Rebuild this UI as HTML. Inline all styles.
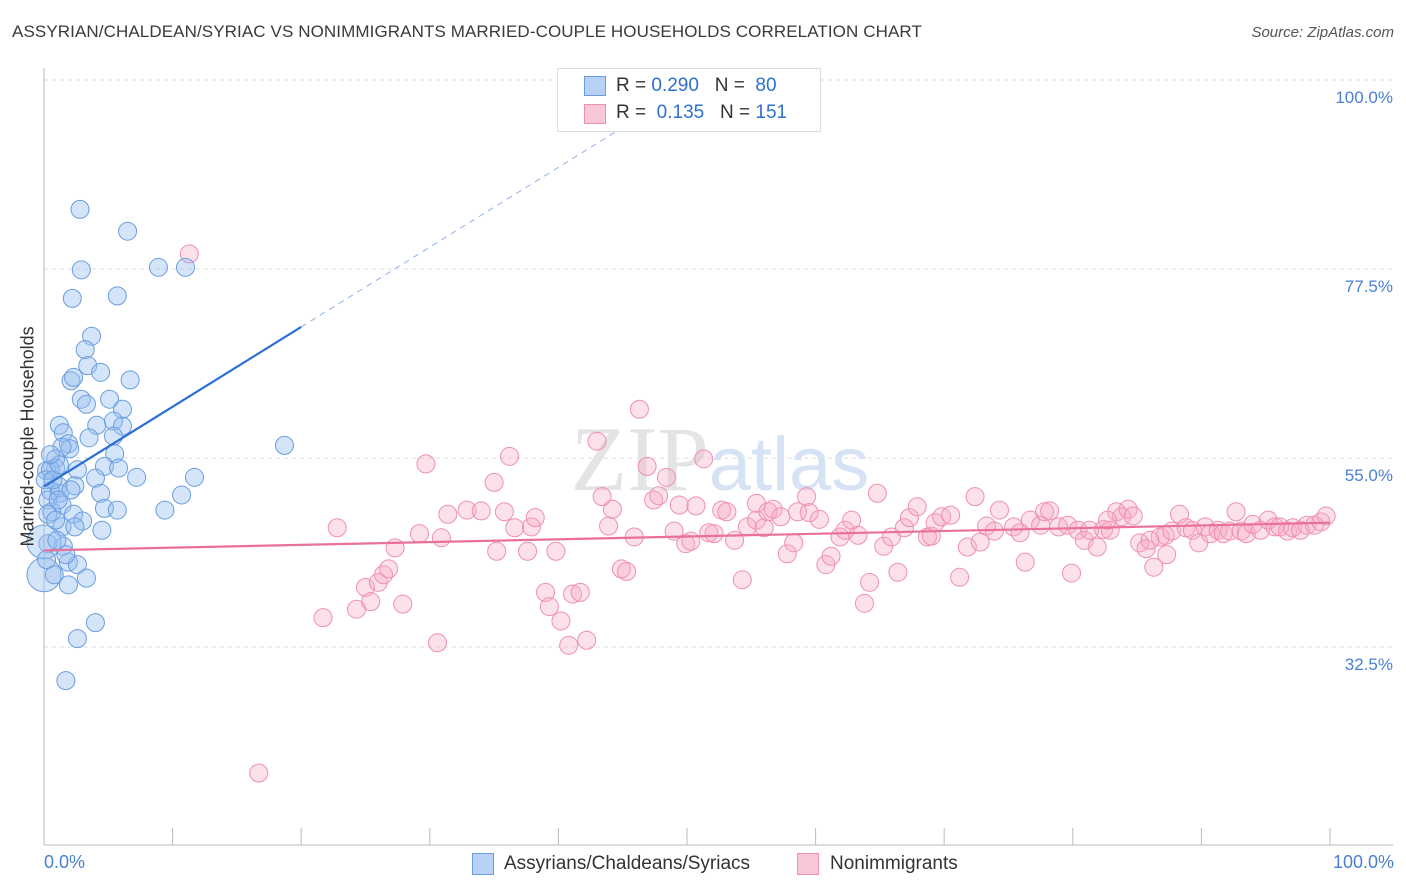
<!DOCTYPE html>
<html><head><meta charset="utf-8">
<style>
body{margin:0;background:#fff;font-family:"Liberation Sans",sans-serif;}
#wrap{position:relative;width:1406px;height:892px;overflow:hidden;}
.t{position:absolute;white-space:nowrap;}
</style></head>
<body>
<div id="wrap">
<div class="t" style="left:12px;top:22px;font-size:17px;color:#3a3a3a;letter-spacing:0.1px">ASSYRIAN/CHALDEAN/SYRIAC VS NONIMMIGRANTS MARRIED-COUPLE HOUSEHOLDS CORRELATION CHART</div>
<div class="t" style="right:12px;top:24px;font-size:15px;color:#555;font-style:italic">Source: ZipAtlas.com</div>
<svg id="chart" width="1406" height="892" style="position:absolute;left:0;top:0"></svg>
</div>
<script>
const blueX=[2.8,6.5,2.9,8.9,11.0,2.2,5.7,3.7,3.2,3.4,4.4,2.1,2.3,6.7,2.9,3.3,5.1,6.1,1.2,4.1,5.4,6.1,1.5,3.5,5.4,1.9,2.0,1.4,0.9,5.5,2.6,4.7,5.8,0.9,0.2,7.2,11.7,4.0,1.1,2.4,0.5,1.2,4.4,10.7,0.3,1.4,4.7,5.7,9.4,0.6,0.3,2.3,3.0,1.4,2.4,4.5,0.3,1.5,0,1.9,2.6,0,0.8,3.3,1.9,4.0,2.6,1.7,18.7,0.5,0.1,0.7,1.2,1.7,0.9,0.2,1.0,2.1,1.1,0.5];
const blueY=[84.6,82.0,77.4,77.7,77.7,74.0,74.3,69.5,67.9,66.0,65.2,64.2,64.6,64.3,62.0,61.4,62.0,60.8,58.9,58.9,59.4,58.8,58.0,57.4,57.6,56.7,56.1,56.3,54.9,55.5,53.6,54.0,53.8,53.8,53.5,52.7,52.7,52.6,51.7,51.7,51.1,50.8,50.8,50.6,50.0,49.4,49.0,48.8,48.8,48.6,48.3,48.3,47.5,46.8,46.8,46.4,44.8,44.5,45.0,42.6,42.3,41.1,41.1,40.7,39.9,35.4,33.5,28.5,56.5,53.6,52.4,52.4,54.2,43.5,47.6,42.9,45.2,51.2,50.0,55.4];
const pinkX=[11.3,16.7,21.7,22.8,24.3,25.0,25.4,26.0,26.4,26.8,27.3,27.9,29.2,29.7,30.6,30.9,31.4,32.9,34.0,35.0,35.2,35.8,36.2,36.6,37.6,37.9,38.2,39.0,39.3,39.8,40.2,40.8,41.1,41.7,42.2,43.0,43.4,43.9,44.2,44.9,45.3,45.9,46.3,46.9,47.4,47.8,48.4,49.0,49.4,49.9,50.3,50.7,51.3,51.7,52.1,52.7,53.1,53.7,54.3,54.7,55.4,55.4,56.0,56.3,56.7,57.3,57.8,58.3,58.6,59.3,59.5,60.3,60.8,61.2,61.9,62.3,62.8,63.3,63.8,64.2,64.8,65.3,65.9,66.4,66.9,67.3,67.9,68.7,69.0,69.3,69.8,70.5,71.2,71.8,72.4,72.8,73.3,73.9,74.3,75.4,76.3,76.7,77.5,77.8,78.2,78.9,79.6,79.9,80.4,80.9,81.3,81.9,82.4,82.9,83.4,83.8,84.3,84.7,85.2,85.7,86.3,86.8,87.2,87.7,88.3,88.8,89.3,89.8,90.3,90.7,91.3,91.7,92.2,92.7,93.1,93.5,94.0,94.6,95.2,95.7,96.1,96.7,97.1,97.7,98.2,98.8,99.3,99.7,87.3,86.0,82.7,75.9];
const pinkY=[79.3,17.5,36.0,46.7,37.0,39.6,37.9,40.2,41.1,41.8,44.3,37.6,46.0,54.3,33.0,45.5,48.3,48.8,48.7,52.1,43.9,48.6,55.2,46.7,43.9,46.8,47.9,39.0,37.3,43.9,35.6,32.7,38.8,39.0,33.3,57.0,50.4,46.9,48.9,41.8,41.5,45.6,60.8,54.0,50.0,50.5,52.7,46.3,49.4,44.8,45.1,49.3,54.9,46.1,46.0,48.8,48.6,45.2,40.5,46.8,49.6,47.6,46.7,48.6,48.9,48.0,43.6,44.9,48.6,50.4,48.5,47.7,42.3,43.3,45.6,46.4,47.6,45.8,37.7,40.2,50.8,44.5,45.6,41.4,46.7,47.9,49.2,45.6,45.7,47.3,48.0,48.2,40.8,44.4,50.4,45.0,46.9,46.3,48.8,46.8,42.6,47.6,47.0,48.6,48.7,46.8,47.0,41.3,46.4,45.2,46.4,44.4,46.5,46.4,48.6,48.0,48.9,48.1,44.9,44.2,42.0,45.6,45.8,46.3,48.3,46.7,46.4,44.9,46.8,46.0,46.4,46.0,46.3,48.6,46.3,46.0,47.1,46.4,47.6,46.8,46.8,46.3,46.7,46.4,47.0,47.0,47.4,48.1,43.5,45.2,47.6,46.1];
const yTicks=[100,77.5,55,32.5];
const yTickLabels=["100.0%","77.5%","55.0%","32.5%"];
const blueTrend=[0,51.6,20,70.6];   // x0,y0,x1,y1
const pinkTrend=[0,44.0,100,47.3];

const X0=44,X1=1330,YTOP=80,PX_PER=8.4;
function sx(v){return X0+(X1-X0)*v/100;}
function sy(v){return YTOP+(100-v)*PX_PER;}
const svg=document.getElementById('chart');
const NS='http://www.w3.org/2000/svg';
function mk(tag,attrs){const e=document.createElementNS(NS,tag);for(const k in attrs)e.setAttribute(k,attrs[k]);svg.appendChild(e);return e;}

// gridlines
yTicks.forEach((t,i)=>{
  const g=mk('line',{x1:44,x2:1393,y1:sy(t),y2:sy(t),stroke:'#dedede','stroke-dasharray':'4,4'});
  
  
  const tx=mk('text',{x:1393,y:sy(t)+23,'text-anchor':'end','font-size':'17',fill:'#4a7fd4','font-family':'Liberation Sans, sans-serif'});
  tx.textContent=yTickLabels[i];
  
  
});
// axes
const ya=mk('line',{x1:44,x2:44,y1:68,y2:845,stroke:'#bbb'});


const xa=mk('line',{x1:44,x2:1393,y1:845,y2:845,stroke:'#bbb'});


for(let i=0;i<=10;i++){
  const tk=mk('line',{x1:sx(i*10),x2:sx(i*10),y1:828,y2:845,stroke:'#bbb'});
  
  
}
// watermark
const wm=mk('text',{x:720,y:490,'text-anchor':'middle','font-size':'92','font-family':'Liberation Serif, serif',fill:'#e4e4e4'});


wm.innerHTML='ZIP<tspan fill="#d5e3f5" font-family="Liberation Sans, sans-serif" font-size="76">atlas</tspan>';

// pink points
pinkX.forEach((x,i)=>{
  const c=mk('circle',{cx:sx(x),cy:sy(pinkY[i]),r:9,fill:'rgba(246,170,196,0.35)',stroke:'#ef8fb0','stroke-width':1});
  
  
});
// blue points
blueX.forEach((x,i)=>{
  const big=(x===0);
  const c=mk('circle',{cx:sx(x),cy:sy(blueY[i]),r:big?17:9,fill:'rgba(150,190,240,0.4)',stroke:'#6a9de0','stroke-width':1});
  
  
});
// trend lines
const bl=mk('line',{x1:sx(blueTrend[0]),y1:sy(blueTrend[1]),x2:sx(blueTrend[2]),y2:sy(blueTrend[3]),stroke:'#2a6fd6','stroke-width':2.2});


const slope=(blueTrend[3]-blueTrend[1])/(blueTrend[2]-blueTrend[0]);
const xEnd=blueTrend[2]+(100-blueTrend[3])/slope;
const bd=mk('line',{x1:sx(blueTrend[2]),y1:sy(blueTrend[3]),x2:sx(xEnd),y2:sy(100),stroke:'#8fb2e6','stroke-width':1,'stroke-dasharray':'6,5'});


const pl=mk('line',{x1:sx(pinkTrend[0]),y1:sy(pinkTrend[1]),x2:sx(pinkTrend[2]),y2:sy(pinkTrend[3]),stroke:'#e8709a','stroke-width':2.2});


</script>
<!-- top legend -->
<div style="position:absolute;left:557px;top:68px;width:262px;height:62px;background:#fff;border:1px solid #ddd;font-size:19px;color:#333">
  <div style="position:absolute;left:26px;top:7px;width:20px;height:18px;background:#b7d2f5;border:1px solid #6a9de0"></div>
  <div class="t" style="left:58px;top:6px">R = <span style="color:#2f6fd0">0.290</span>&nbsp;&nbsp;&nbsp;N = &nbsp;<span style="color:#2f6fd0">80</span></div>
  <div style="position:absolute;left:26px;top:35px;width:20px;height:18px;background:#f9c8d8;border:1px solid #ef8fb0"></div>
  <div class="t" style="left:58px;top:33px">R = &nbsp;<span style="color:#2f6fd0">0.135</span>&nbsp;&nbsp;&nbsp;N = <span style="color:#2f6fd0">151</span></div>
</div>
<div class="t" style="left:-62px;top:446px;transform:rotate(-90deg);font-size:18px;color:#333;width:180px;text-align:center">Married-couple Households</div>
<div class="t" style="left:44px;top:852px;font-size:18px;color:#4a7fd4">0.0%</div>
<div class="t" style="right:12px;top:852px;font-size:18px;color:#4a7fd4">100.0%</div>
<div style="position:absolute;left:472px;top:853px;width:20px;height:20px;background:#b7d2f5;border:1px solid #6a9de0"></div>
<div class="t" style="left:504px;top:853px;font-size:19px;color:#333">Assyrians/Chaldeans/Syriacs</div>
<div style="position:absolute;left:797px;top:853px;width:20px;height:20px;background:#f9c8d8;border:1px solid #ef8fb0"></div>
<div class="t" style="left:830px;top:853px;font-size:19px;color:#333">Nonimmigrants</div>
</body></html>
